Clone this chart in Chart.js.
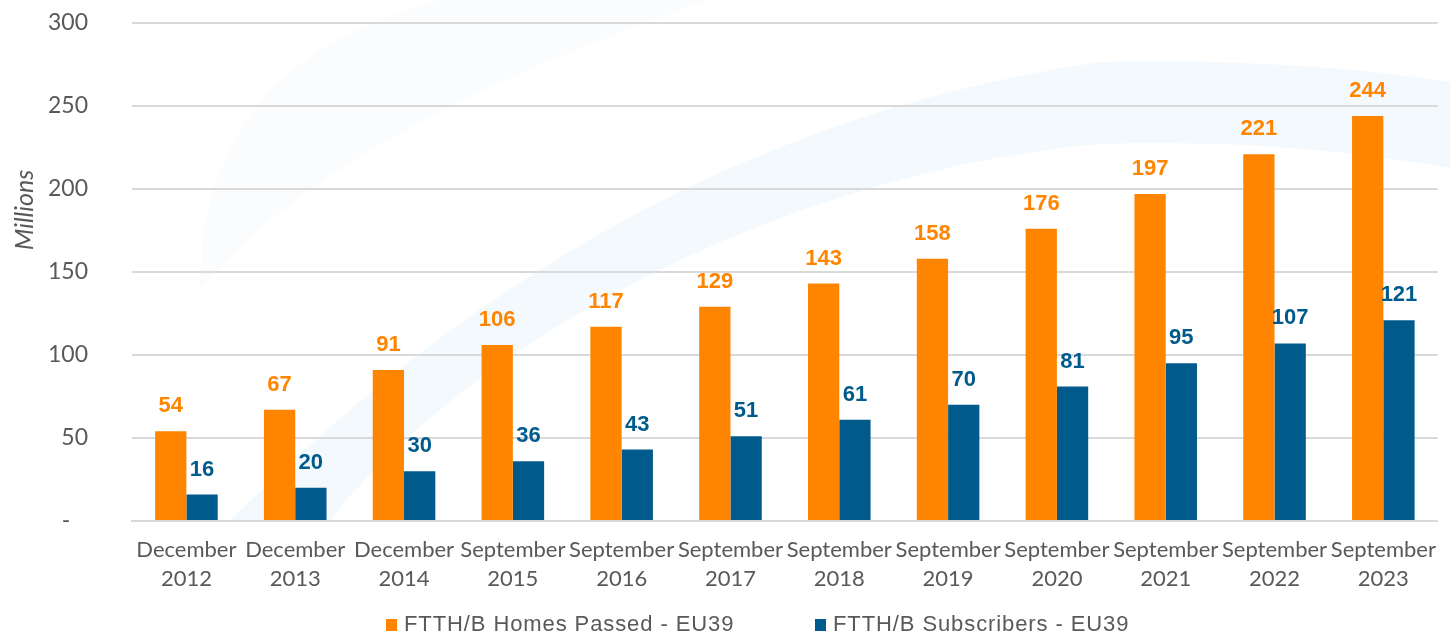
<!DOCTYPE html>
<html>
<head>
<meta charset="utf-8">
<script src="https://cdn.jsdelivr.net/npm/chart.js@4/dist/chart.umd.min.js"></script>
<style>
  html, body { margin: 0; padding: 0; background: #fff; }
  #wrap { width: 1450px; height: 636px; position: relative; }
  #legend { position: absolute; left: 0; top: 613px; width: 1450px; height: 23px; }
  .item { position: absolute; top: 0; white-space: nowrap;
          font: 22px/22px "Liberation Sans", Arial, sans-serif; letter-spacing: 0.9px; color: #595959; }
  .box { position: absolute; left: 0; top: 6px; width: 11px; height: 12px; }
  .item span.t { position: absolute; left: 18px; top: 0; }
</style>
</head>
<body>
<div id="wrap"><canvas id="c"></canvas><div id="legend"></div></div>
<script>
// FTTH/B in EU39 — homes passed vs subscribers (millions)
const periods = [
  ['December', '2012'], ['December', '2013'], ['December', '2014'],
  ['September', '2015'], ['September', '2016'], ['September', '2017'],
  ['September', '2018'], ['September', '2019'], ['September', '2020'],
  ['September', '2021'], ['September', '2022'], ['September', '2023']
];
const homesPassed = [54, 67, 91, 106, 117, 129, 143, 158, 176, 197, 221, 244];
const subscribers = [16, 20, 30, 36, 43, 51, 61, 70, 81, 95, 107, 121];
const seriesNames = ['FTTH/B Homes Passed - EU39', 'FTTH/B Subscribers - EU39'];
const yTitle = 'Millions';

const ORANGE = '#FF8500';
const BLUE = '#005B8C';
const GREY = '#595959';

// faint swooshes in the background (decoration only)
const swooshes = {
  id: 'swooshes',
  beforeDraw(chart) {
    const ctx = chart.ctx;
    ctx.save();
    ctx.fillStyle = 'rgba(228,239,248,0.18)';
    ctx.beginPath();
    ctx.moveTo(200, 290);
    ctx.quadraticCurveTo(200, 60, 440, 0);
    ctx.lineTo(710, 0);
    ctx.quadraticCurveTo(330, 130, 200, 290);
    ctx.closePath();
    ctx.fill();

    ctx.fillStyle = 'rgba(226,240,250,0.42)';
    ctx.beginPath();
    ctx.moveTo(230, 521);
    ctx.bezierCurveTo(420, 330, 700, 120, 1100, 62);
    ctx.quadraticCurveTo(1300, 58, 1450, 82);
    ctx.lineTo(1450, 168);
    ctx.quadraticCurveTo(1280, 138, 1100, 144);
    ctx.bezierCurveTo(800, 170, 480, 330, 330, 521);
    ctx.closePath();
    ctx.fill();
    ctx.restore();
  }
};

// value labels above each bar
const valueLabels = {
  id: 'valueLabels',
  afterDatasetsDraw(chart) {
    const ctx = chart.ctx;
    ctx.save();
    ctx.font = 'bold 22px "Liberation Sans", Arial, sans-serif';
    ctx.textAlign = 'center';
    ctx.textBaseline = 'middle';
    chart.data.datasets.forEach((ds, i) => {
      const meta = chart.getDatasetMeta(i);
      ctx.fillStyle = ds.backgroundColor;
      meta.data.forEach((bar, j) => {
        ctx.fillText(String(ds.data[j]), bar.x, bar.y - 25);
      });
    });
    ctx.restore();
  }
};

// rotated italic axis title, placed like the original
const axisTitle = {
  id: 'axisTitle',
  afterDraw(chart) {
    const ctx = chart.ctx;
    ctx.save();
    ctx.translate(25, 210);
    ctx.rotate(-Math.PI / 2);
    ctx.font = 'italic 25px Lato, sans-serif';
    ctx.fillStyle = GREY;
    ctx.textAlign = 'center';
    ctx.textBaseline = 'middle';
    ctx.fillText(yTitle, 0, 0);
    ctx.restore();
  }
};

const chart = new Chart(document.getElementById('c'), {
  type: 'bar',
  data: {
    labels: periods,
    datasets: [
      { label: seriesNames[0], data: homesPassed, backgroundColor: ORANGE },
      { label: seriesNames[1], data: subscribers, backgroundColor: BLUE }
    ]
  },
  options: {
    responsive: true,
    maintainAspectRatio: false,
    animation: false,
    datasets: { bar: { categoryPercentage: 0.575, barPercentage: 1 } },
    layout: { padding: { top: 23, right: 2, left: 0, bottom: 37 } },
    plugins: {
      tooltip: { enabled: false },
      legend: { display: false }
    },
    scales: {
      x: {
        grid: { display: false, drawTicks: false },
        border: { color: '#d9d9d9', width: 2 },
        ticks: {
          color: GREY,
          font: { family: 'Lato, sans-serif', size: 22, lineHeight: '29px' },
          padding: 14,
          maxRotation: 0,
          autoSkip: false
        },
        afterFit(scale) { scale.height = 78; }
      },
      y: {
        min: 0,
        max: 300,
        // invisible tick marks make the gap between labels and grid
        grid: { color: '#d9d9d9', lineWidth: 2, drawTicks: true, tickLength: 44, tickColor: 'rgba(0,0,0,0)' },
        border: { display: false },
        ticks: {
          stepSize: 50,
          color: GREY,
          padding: 0,
          font: { family: 'Lato, sans-serif', size: 23 },
          callback: v => v === 0 ? '-   ' : v
        },
        afterFit(scale) { scale.width = 132; }
      }
    }
  },
  plugins: [swooshes, valueLabels, axisTitle]
});

// HTML legend built from the datasets
const legendLeft = [386, 815];
const legend = document.getElementById('legend');
chart.data.datasets.forEach((ds, i) => {
  const item = document.createElement('div');
  item.className = 'item';
  item.style.left = legendLeft[i] + 'px';
  item.innerHTML = `<span class="box" style="background:${ds.backgroundColor}"></span><span class="t">${ds.label}</span>`;
  legend.appendChild(item);
});
</script>
</body>
</html>
